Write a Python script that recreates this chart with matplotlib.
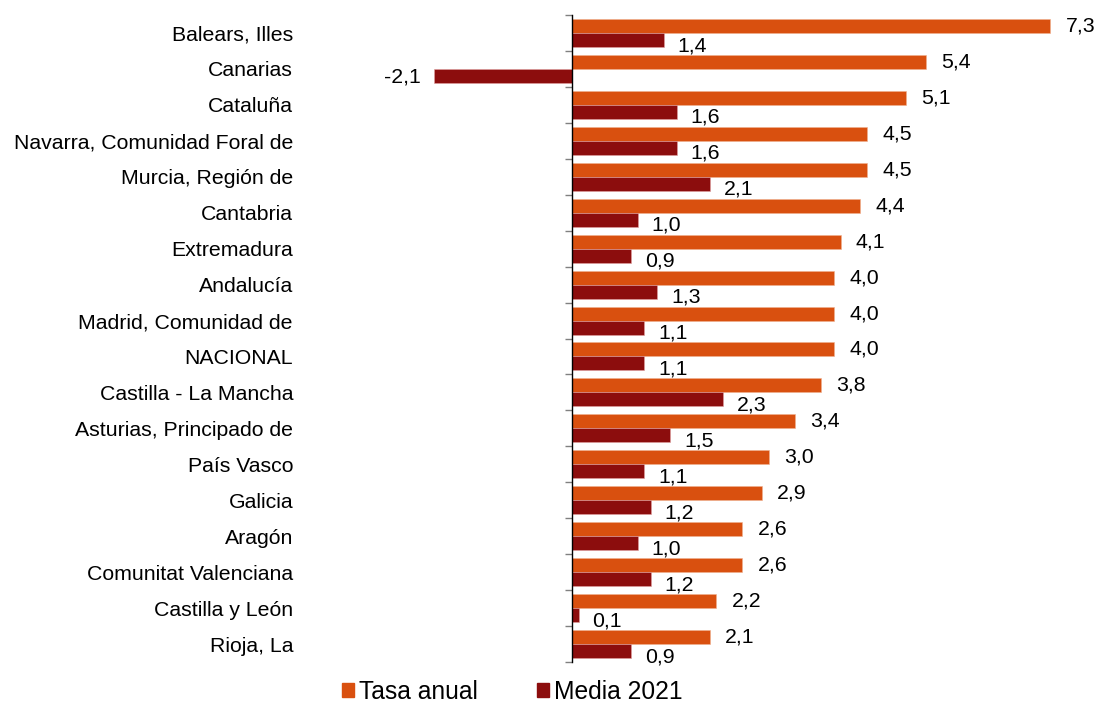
import numpy as np
import matplotlib
matplotlib.use("Agg")
import matplotlib.pyplot as plt
from matplotlib.patches import Patch

plt.rcParams.update({
    "font.family": ["Liberation Sans", "DejaVu Sans"],
    "font.size": 15.3,
    "figure.facecolor": "white",
})

regions = [
    "Balears, Illes", "Canarias", "Cataluña", "Navarra, Comunidad Foral de",
    "Murcia, Región de", "Cantabria", "Extremadura", "Andalucía",
    "Madrid, Comunidad de", "NACIONAL", "Castilla - La Mancha",
    "Asturias, Principado de", "País Vasco", "Galicia", "Aragón",
    "Comunitat Valenciana", "Castilla y León", "Rioja, La",
]
tasa_anual = [7.3, 5.4, 5.1, 4.5, 4.5, 4.4, 4.1, 4.0, 4.0, 4.0, 3.8, 3.4,
              3.0, 2.9, 2.6, 2.6, 2.2, 2.1]
media_2021 = [1.4, -2.1, 1.6, 1.6, 2.1, 1.0, 0.9, 1.3, 1.1, 1.1, 2.3, 1.5,
              1.1, 1.2, 1.0, 1.2, 0.1, 0.9]

ORANGE = "#D9500F"
DARK = "#8C0D0D"
FS = 15.3

W, H = 1098, 708
fig = plt.figure(figsize=(W / 100, H / 100), dpi=100)
# axes placed so that zero sits at x=572 px and the categories span 15..662 px
left_px, right_px = 300, 1060
ax = fig.add_axes([left_px / W, 1 - 662 / H, (right_px - left_px) / W, (662 - 15) / H])

scale = 65.5  # px per unit
ax.set_xlim(-(572 - left_px) / scale, (right_px - 572) / scale)
ax.set_ylim(len(regions) - 0.5, -0.5)

y = np.arange(len(regions))
h = 0.39
ax.barh(y - h / 2, tasa_anual, height=h, color=ORANGE, edgecolor="#f0b090", linewidth=0.4)
ax.barh(y + h / 2, media_2021, height=h, color=DARK, edgecolor="#e0a0a0", linewidth=0.4)


def fmt(v):
    return f"{v:.1f}".replace(".", ",")


for i, (a, m) in enumerate(zip(tasa_anual, media_2021)):
    ax.annotate(fmt(a), (a, i - h / 2), xytext=(11, 0), textcoords="offset points",
                ha="left", va="center", fontsize=FS)
    if m >= 0:
        ax.annotate(fmt(m), (m, i + h / 2), xytext=(10, -4), textcoords="offset points",
                    ha="left", va="center", fontsize=FS)
    else:
        ax.annotate(fmt(m), (m, i + h / 2), xytext=(-10, -1), textcoords="offset points",
                    ha="right", va="center", fontsize=FS)

for s in ["top", "right", "bottom"]:
    ax.spines[s].set_visible(False)
ax.spines["left"].set_position(("data", 0))
ax.spines["left"].set_color("black")
ax.spines["left"].set_linewidth(1.0)
ax.set_xticks([])

ax.set_yticks(y)
ax.set_yticklabels(regions, fontsize=FS)
ax.tick_params(axis="y", which="major", length=0, pad=(572 - 293) * 0.72)
ax.set_yticks(np.arange(len(regions) + 1) - 0.5, minor=True)
ax.tick_params(axis="y", which="minor", length=5, width=1, color="#808080", direction="out")

handles = [Patch(color=ORANGE, label="Tasa anual"), Patch(color=DARK, label="Media 2021")]
fig.legend(handles=handles, loc="center", bbox_to_anchor=(512 / W, 1 - 692 / H),
           ncol=2, frameon=False, fontsize=17.7, handlelength=0.5, handleheight=0.5,
           handletextpad=0.2, columnspacing=2.4, borderpad=0)

fig.savefig("out.png", dpi=100)
